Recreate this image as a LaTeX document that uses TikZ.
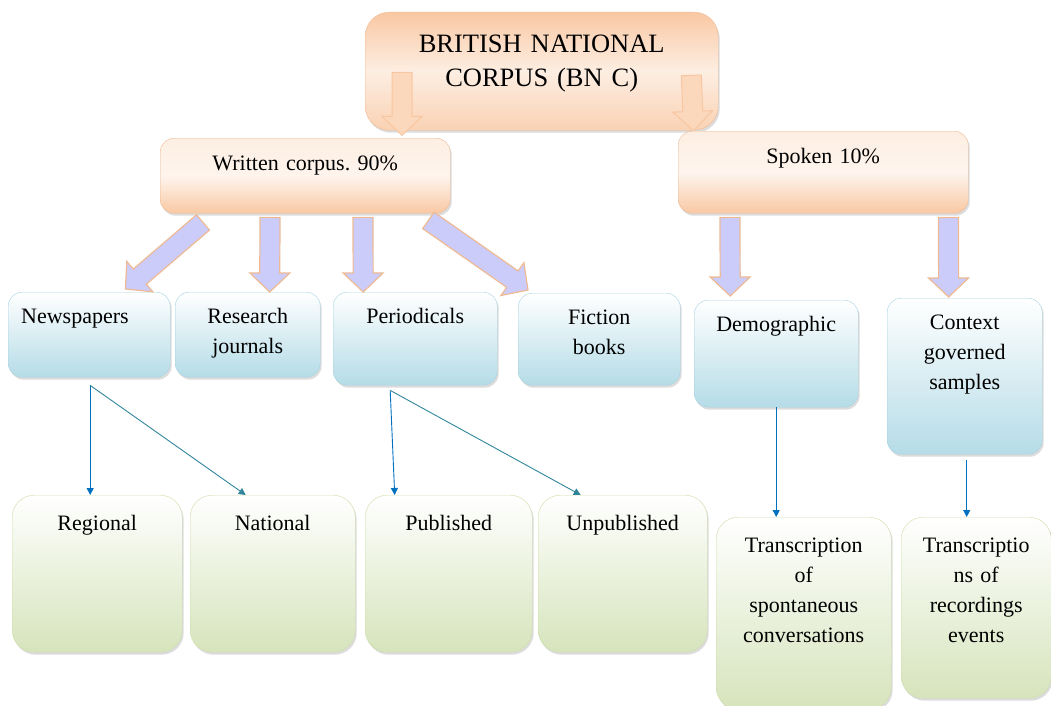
\documentclass[tikz,border=0pt]{standalone}
\usepackage{fontspec}
\setmainfont{Liberation Serif}
\usepackage{xcolor}
\usepackage{tikz}
\usetikzlibrary{arrows.meta, positioning, calc, shadows}
\definecolor{PeachDark}{RGB}{249, 200, 163}
\definecolor{PeachLight}{RGB}{253, 238, 226}
\definecolor{PeachEdge}{RGB}{238, 186, 148}
\definecolor{SkyEdge}{RGB}{165, 211, 226}
\definecolor{SkyFill}{RGB}{181, 220, 231}
\definecolor{LeafEdge}{RGB}{205, 222, 168}
\definecolor{LeafFill}{RGB}{214, 228, 188}
\definecolor{Lavender}{RGB}{204, 204, 250}
\definecolor{LinkBlue}{RGB}{0, 112, 192}
\definecolor{LinkTeal}{RGB}{49, 133, 155}
\frenchspacing

\tikzset{
  boxshadow/.style={drop shadow={shadow xshift=1.5pt, shadow yshift=-2.5pt, opacity=0.3, fill=black!45}},
  topbox/.style={anchor=north west, align=center, inner xsep=4pt, inner ysep=10pt,
    rounded corners=14pt, draw=PeachEdge, boxshadow,
    top color=PeachLight, bottom color=PeachDark, middle color=PeachLight!60,
    font=\fontsize{22}{30}\selectfont, text height=22pt},
  catbox/.style={anchor=north west, align=center, inner xsep=4pt, inner ysep=10pt,
    rounded corners=14pt, draw=SkyEdge, boxshadow,
    top color=white, bottom color=SkyFill,
    font=\fontsize{22}{30}\selectfont, text height=21pt},
  leafbox/.style={anchor=north west, align=center, inner xsep=4pt, inner ysep=10pt,
    rounded corners=22pt, draw=LeafEdge, boxshadow,
    top color=white, bottom color=LeafFill,
    font=\fontsize{22}{30}\selectfont, text height=25pt},
  fatarrow/.style={fill=Lavender, draw=PeachEdge, line width=1.2pt, line join=miter},
  peacharrow/.style={fill=PeachLight!40!PeachDark, draw=PeachDark!90!PeachEdge, line width=1pt, line join=miter},
  thinlink/.style={-{Triangle[length=7pt, width=7pt]}, line width=0.9pt, LinkBlue},
  slantlink/.style={-{Triangle[length=7pt, width=7pt]}, line width=0.9pt, LinkTeal}
}

% block arrow from #2 to #3, drawn with style #1
\newcommand{\fatarrow}[3][fatarrow]{%
  \coordinate (fa-s) at (#2);
  \coordinate (fa-t) at (#3);
  \coordinate (fa-h) at ($(fa-t)!19pt!(fa-s)$);
  \filldraw[#1] ($(fa-s)!10pt!90:(fa-t)$) -- ($(fa-h)!10pt!90:(fa-t)$)
    -- ($(fa-h)!20pt!90:(fa-t)$) -- (fa-t) -- ($(fa-h)!20pt!-90:(fa-t)$)
    -- ($(fa-h)!10pt!-90:(fa-t)$) -- ($(fa-s)!10pt!-90:(fa-t)$) -- cycle;
}

\begin{document}
\begin{tikzpicture}[x=1pt, y=-1pt]
    \useasboundingbox (0,0) rectangle (1051,706);

    % top level
    \node[topbox, rounded corners=24pt, text width=345pt, text height=30pt, text depth=68pt,
          font=\fontsize{26.5}{34}\selectfont, top color=PeachDark, bottom color=PeachDark!75!PeachLight,
          middle color=PeachLight] (bnc) at (365,12) {BRITISH NATIONAL\\CORPUS (BN C)};
    \node[topbox, text width=282pt, text depth=33pt] (written) at (160,138) {Written corpus. 90\%};
    \node[topbox, text width=282pt, text depth=40pt] (spoken) at (678,131) {Spoken 10\%};

    % categories
    \node[catbox, text width=154pt, text depth=44pt, align=left] (news) at (8,292) {\hspace*{9pt}Newspapers};
    \node[catbox, text width=137pt, text depth=44pt] (research) at (175,292) {Research\\journals};
    \node[catbox, text width=156pt, text depth=52pt] (period) at (333,292) {Periodicals};
    \node[catbox, text width=154pt, text depth=51pt] (fiction) at (518,293) {Fiction\\books};
    \node[catbox, text width=156pt, text depth=66pt] (demo) at (694,300) {Demographic};
    \node[catbox, text width=147pt, text depth=115pt] (context) at (887,298) {Context\\governed\\samples};

    % leaves
    \node[leafbox, text width=162pt, text depth=112pt] (regional) at (12,495) {Regional};
    \node[leafbox, text width=157pt, text depth=112pt] (national) at (190,495) {National};
    \node[leafbox, text width=159pt, text depth=112pt] (published) at (365,495) {Published};
    \node[leafbox, text width=161pt, text depth=112pt] (unpub) at (538,495) {Unpublished};
    \node[leafbox, text width=167pt, text depth=147pt] (spont) at (716,517)
        {Transcription\\of\\spontaneous\\conversations};
    \node[leafbox, text width=142pt, text depth=136pt] (record) at (901,517)
        {Transcriptio\\ns of\\recordings\\events};

    % block arrows
    \fatarrow[peacharrow]{$(bnc.south west)+(37,-58)$}{$(bnc.south west)+(37,5)$}
    \fatarrow[peacharrow]{$(bnc.south east)+(-27,-55)$}{$(bnc.south east)+(-25,0)$}
    \fatarrow{$(written.south west)+(43,9)$}{$(news.north east)+(-45,-3)$}
    \fatarrow{$(written.south west)+(110,4)$}{$(research.north)+(22,0)$}
    \fatarrow{$(written.south west)+(203,4)$}{$(period.north)+(-52,0)$}
    \fatarrow{$(written.south east)+(-22,7)$}{$(fiction.north west)+(10,-3)$}
    \fatarrow{$(spoken.south west)+(52,4)$}{$(demo.north)+(-46,-4)$}
    \fatarrow{$(spoken.south east)+(-20,4)$}{$(context.north)+(-16,-1)$}

    % thin links
    \coordinate (newsfork) at ($(news.south)+(1,8)$);
    \draw[thinlink] (newsfork) -- (newsfork |- regional.north);
    \draw[slantlink] (newsfork) -- ($(national.north)+(-27,0)$);
    \coordinate (periodfork) at ($(period.south)+(-25,5)$);
    \draw[thinlink] (periodfork) -- ($(published.north)+(-54,0)$);
    \draw[slantlink] (periodfork) -- ($(unpub.north)+(-42,0)$);
    \draw[thinlink] (demo.south) -- (demo.south |- spont.north);
    \coordinate (contextfork) at ($(context.south)+(2,6)$);
    \draw[thinlink] (contextfork) -- (contextfork |- record.north);
\end{tikzpicture}
\end{document}
